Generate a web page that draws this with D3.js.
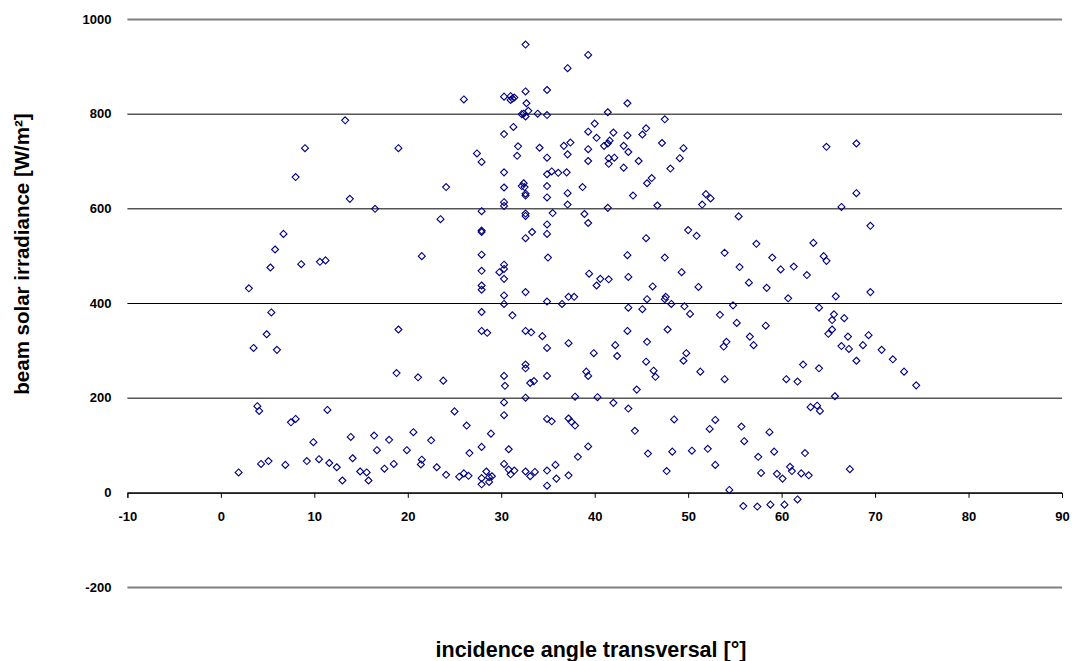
<!DOCTYPE html>
<html lang="en">
<head>
    <meta charset="UTF-8">
    <title>beam solar irradiance vs incidence angle</title>
    <script src="https://cdn.jsdelivr.net/npm/d3@7"></script>
    <style>
        body { margin: 0; background: #fff; }
        text { font-family: "Liberation Sans", Arial, sans-serif; font-weight: bold; }
    </style>
</head>
<body>
<svg id="chart" width="1075" height="661"></svg>
<script>
    // incidence angle transversal [deg]
    let angle = [
        1.9, 3.9, 4.1, 4.3, 5.1, 6.9, 7.5, 8.0, 9.2, 9.9, 10.5, 11.4, 11.6, 12.4, 13.0, 13.9, 14.1, 14.9, 15.6, 15.8,
        16.4, 16.7, 17.5, 18.0, 18.5, 18.8,
        21.1, 23.8, 30.3, 30.4, 32.6, 32.6, 33.1, 33.5, 34.9, 32.6, 30.3, 30.3, 25.0, 26.3, 20.6, 22.5, 28.9, 34.9,
        35.4, 37.2, 37.5, 19.9, 21.5, 21.4, 23.1, 24.1, 26.6, 25.5, 26.0, 26.5, 27.9, 27.9, 27.9, 28.4, 28.7, 29.0,
        28.7, 30.8, 30.3, 30.8, 31.0, 31.4, 32.6, 33.1, 33.6, 34.9, 34.9, 35.8, 35.9, 37.2, 37.9, 37.9,
        39.1, 39.3, 40.3, 42.0, 43.6, 44.5, 46.3, 46.5, 51.3, 53.9, 38.2, 39.3, 44.3, 48.5, 45.7, 48.3, 47.7, 50.4,
        52.3, 52.9, 52.1, 52.9, 54.4, 55.7, 56.0, 55.9,
        64.0, 60.5, 61.7, 73.1, 74.4, 65.7, 63.1, 63.8, 64.1, 58.7, 57.5, 59.2, 62.5, 57.8, 59.5, 60.1, 60.9, 61.1,
        62.1, 62.9, 67.3, 57.4, 58.8, 60.3, 61.7, 62.3,
        13.8, 16.5, 6.7, 5.8, 5.3, 8.6, 10.6, 11.2, 3.0, 5.4, 4.9, 3.5, 6.0, 19.0,
        13.3, 9.0, 8.0, 19.0,
        32.6, 37.1, 26.0, 30.3, 31.0, 31.2, 31.4, 31.0, 32.6, 34.9, 32.7, 32.9, 32.2, 32.6, 32.4, 33.9, 34.9, 31.3,
        30.3, 31.8, 31.7, 34.1, 34.9, 36.7, 37.4, 37.1, 27.4, 27.9, 30.3, 34.9, 35.4, 36.1, 37.0, 24.1, 30.3, 32.2,
        32.4, 32.5, 34.9,
        39.3, 43.5, 41.4, 47.5, 40.0, 39.3, 40.2, 42.0, 43.5, 45.1, 45.5, 47.2, 49.5, 41.0, 41.4, 41.6, 43.1, 43.6,
        39.3, 39.3, 41.5, 41.5, 42.1, 44.7, 43.1, 49.1, 48.1, 45.6, 46.1, 38.7,
        64.8, 68.0,
        32.6, 32.6, 34.9, 37.1, 30.3, 30.3, 27.9, 37.1, 35.5, 32.6, 32.6, 23.5, 34.9, 34.9, 33.3, 32.6, 27.9, 27.9,
        21.5, 27.9, 35.0, 27.9, 30.3, 30.3, 29.8, 30.3, 27.9, 27.9, 32.6, 30.3, 30.3, 34.9, 36.5, 37.2, 37.8, 31.2,
        27.9, 27.9, 28.5, 32.6, 33.2, 34.4, 34.9, 37.2,
        44.1, 51.9, 52.4, 41.4, 46.7, 51.5, 38.9, 39.3, 55.4, 45.5, 50.0, 50.9, 43.5, 47.5, 53.9, 55.5, 39.4, 40.6,
        40.2, 41.5, 43.6, 49.3, 46.2, 51.1, 56.5, 45.6, 47.6, 47.5, 48.2, 43.6, 45.1, 49.6, 50.2, 54.8, 53.4, 55.2,
        43.5, 47.8, 45.6, 42.2, 39.9, 42.4, 45.5, 49.8, 49.5, 53.8, 54.1, 56.6,
        68.0, 66.4, 69.5, 57.3, 63.4, 59.0, 64.5, 64.8, 59.9, 61.3, 62.7, 58.4, 60.7, 65.8, 69.5, 64.0, 65.6, 65.4,
        66.7, 58.3, 57.0, 65.4, 65.0, 67.1, 69.3, 66.4, 67.2, 68.7, 70.7, 71.9, 68.0
    ]
    // beam solar irradiance [W/m2]
    let irradiance = [
        42, 182, 172, 60, 66, 58, 148, 155, 66, 106, 70, 174, 62, 53, 25, 117, 72, 44, 42, 25,
        120, 89, 50, 111, 60, 252,
        243, 236, 246, 225, 270, 262, 231, 235, 246, 200, 190, 163, 171, 141, 127, 110, 124, 155,
        150, 156, 149, 89, 69, 59, 53, 37, 83, 33, 40, 35, 96, 30, 17, 44, 32, 34,
        22, 91, 60, 48, 38, 46, 44, 34, 43, 46, 14, 58, 29, 36, 202, 141,
        255, 246, 201, 189, 177, 217, 257, 244, 255, 239, 75, 97, 130, 154, 82, 86, 45, 88,
        134, 153, 92, 58, 5, 139, 108, -29,
        262, 239, 234, 255, 226, 203, 180, 183, 172, 127, 75, 86, 83, 41, 39, 29, 54, 45,
        40, 36, 49, -30, -26, -26, -15, 270,
        620, 599, 546, 513, 475, 482, 487, 490, 431, 380, 334, 305, 301, 344,
        786, 727, 666, 727,
        946, 896, 830, 836, 837, 832, 834, 829, 847, 850, 822, 806, 799, 794, 800, 800, 797, 772,
        757, 731, 711, 728, 707, 732, 739, 714, 716, 698, 676, 672, 678, 675, 676, 645, 644, 647,
        653, 645, 647,
        924, 822, 803, 788, 779, 762, 749, 760, 754, 756, 769, 738, 727, 732, 737, 743, 732, 719,
        725, 700, 706, 694, 707, 700, 686, 706, 684, 653, 664, 645,
        730, 737,
        631, 627, 623, 632, 613, 605, 594, 608, 590, 589, 584, 577, 566, 546, 550, 537, 550, 553,
        499, 502, 496, 468, 481, 472, 465, 451, 437, 428, 423, 416, 398, 403, 398, 413, 413, 374,
        381, 341, 337, 341, 338, 330, 305, 315,
        627, 630, 621, 601, 606, 608, 588, 569, 583, 537, 554, 542, 501, 496, 506, 476, 462, 451,
        437, 450, 455, 465, 435, 434, 443, 408, 413, 408, 398, 390, 387, 393, 377, 395, 375, 358,
        341, 344, 318, 311, 294, 288, 276, 294, 278, 308, 318, 329,
        632, 603, 563, 525, 527, 496, 499, 489, 471, 477, 459, 432, 410, 414, 423, 390, 376, 364,
        368, 352, 311, 344, 335, 329, 332, 309, 303, 311, 301, 281, 278
    ]
    let xTicks = [-10, 0, 10, 20, 30, 40, 50, 60, 70, 80, 90]
    let yTicks = [-200, 0, 200, 400, 600, 800, 1000]
    let xTitle = "incidence angle transversal [°]"
    let yTitle = "beam solar irradiance [W/m²]"

    let svg = d3.select("#chart")
    let x = d3.scaleLinear().domain([-10, 90]).range([127.4, 1062])
    let y = d3.scaleLinear().domain([-200, 1000]).range([587, 19])

    // gridlines
    svg.append("g")
        .selectAll("line")
        .data(yTicks)
        .join("line")
        .attr("x1", x(-10)).attr("x2", x(90))
        .attr("y1", d => y(d) + 0.5).attr("y2", d => y(d) + 0.5)
        .attr("stroke", d => (d === 1000 || d === -200) ? "#808080" : "#000")
        .attr("stroke-width", d => (d === 1000 || d === -200) ? 2 : 1)

    // x axis sits on y = 0
    let xAxis = svg.append("g")
        .attr("transform", `translate(0,${y(0) + 0.5})`)
        .call(d3.axisBottom(x).tickValues(xTicks).tickSize(5).tickPadding(14).tickFormat(d => String(d)))
    xAxis.select(".domain").attr("stroke", "#000")
    xAxis.selectAll(".tick line").attr("stroke", "#000")
    xAxis.selectAll("text").attr("font-size", 13).attr("fill", "#000")
        .attr("font-family", "Liberation Sans, Arial, sans-serif").attr("font-weight", "bold")

    // y labels
    let yAxis = svg.append("g")
        .attr("transform", `translate(${x(-10)},0)`)
        .call(d3.axisLeft(y).tickValues(yTicks).tickSize(0).tickPadding(16).tickFormat(d => String(d)))
    yAxis.select(".domain").remove()
    yAxis.selectAll("text").attr("font-size", 13).attr("fill", "#000")
        .attr("font-family", "Liberation Sans, Arial, sans-serif").attr("font-weight", "bold")

    // points
    let pts = d3.zip(angle, irradiance)
    svg.append("g")
        .selectAll("path")
        .data(pts)
        .join("path")
        .attr("d", "M0,-3.5L3.5,0L0,3.5L-3.5,0Z")
        .attr("transform", d => `translate(${x(d[0])},${y(d[1])})`)
        .attr("fill", "none")
        .attr("stroke", "#000080")
        .attr("stroke-width", 1.1)

    svg.append("text")
        .attr("x", 591).attr("y", 657)
        .attr("text-anchor", "middle")
        .attr("font-size", 21.5)
        .text(xTitle)

    svg.append("text")
        .attr("transform", "translate(29,254) rotate(-90)")
        .attr("text-anchor", "middle")
        .attr("font-size", 20.5)
        .text(yTitle)
</script>
</body>
</html>
